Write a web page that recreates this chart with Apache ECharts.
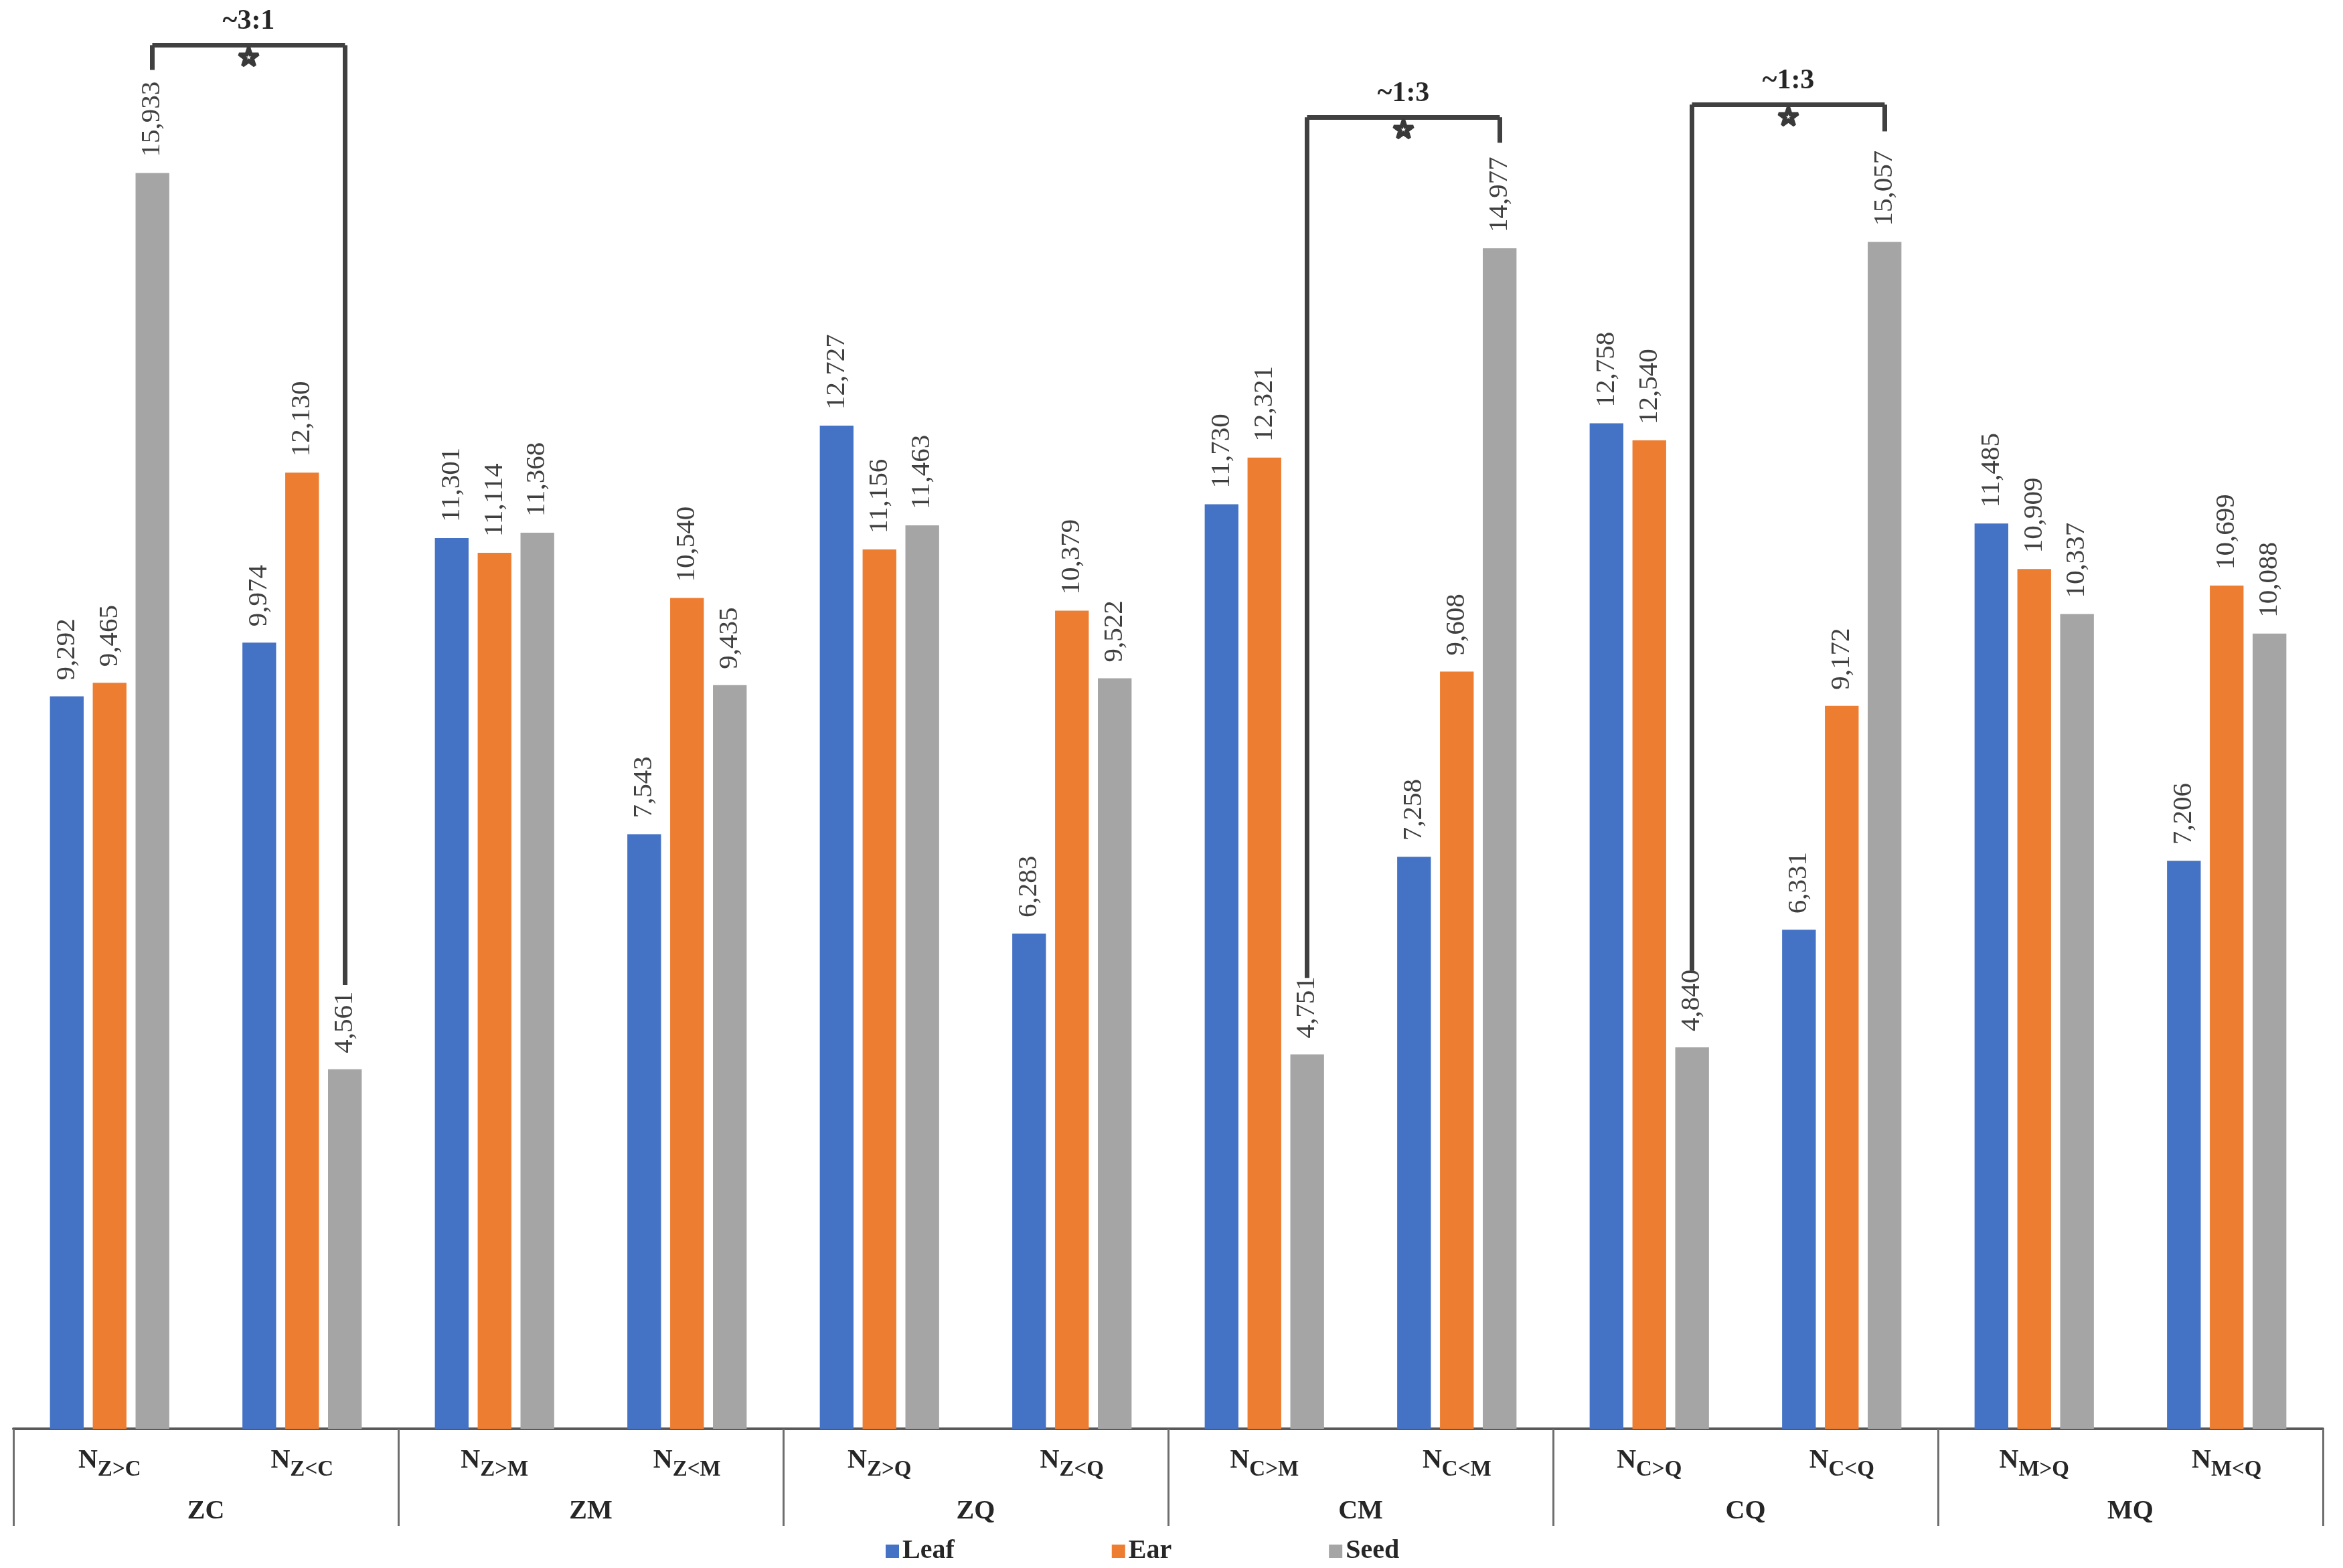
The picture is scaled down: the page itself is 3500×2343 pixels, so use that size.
<!DOCTYPE html>
<html>
<head>
<meta charset="utf-8">
<script src="https://cdn.jsdelivr.net/npm/echarts@6/dist/echarts.min.js"></script>
<style>
html,body{margin:0;padding:0;background:#fff;}
#chart{width:3500px;height:2343px;}
</style>
</head>
<body>
<div id="chart"></div>
<script>
const subCategories = ['Z>C','Z<C','Z>M','Z<M','Z>Q','Z<Q','C>M','C<M','C>Q','C<Q','M>Q','M<Q'];
const groups = ['ZC','ZM','ZQ','CM','CQ','MQ'];
const leaf = [9292, 9974, 11301, 7543, 12727, 6283, 11730, 7258, 12758, 6331, 11485, 7206];
const ear  = [9465, 12130, 11114, 10540, 11156, 10379, 12321, 9608, 12540, 9172, 10909, 10699];
const seed = [15933, 4561, 11368, 9435, 11463, 9522, 4751, 14977, 4840, 15057, 10337, 10088];
// significance brackets (data space: category index, value)
const bracketFrom    = [0, 6, 8];
const bracketTo      = [1, 7, 9];
const bracketTop     = [17555, 16640, 16800];
const bracketFromEnd = [17240, 5720, 5810];
const bracketToEnd   = [5630, 16316, 16460];
const bracketRatio   = ['~3:1', '~1:3', '~1:3'];

const FONT = 'Liberation Serif';
const TXT = '#262626';

const markData = [];
bracketFrom.forEach((f, i) => {
  const t = bracketTo[i], top = bracketTop[i];
  markData.push([{coord:[f, bracketFromEnd[i]]}, {coord:[f, top]}]);
  markData.push([{coord:[f, top], label:{show:true, position:'insideMiddleTop', distance:14, formatter:bracketRatio[i],
      fontFamily:FONT, fontWeight:'bold', fontSize:42, color:TXT}}, {coord:[t, top]}]);
  markData.push([{coord:[f, top], label:{show:true, position:'insideMiddleBottom', distance:2, formatter:'☆',
      fontFamily:'DejaVu Sans', fontWeight:'bold', fontSize:38, color:'#3a3a3a', textBorderColor:'#3a3a3a', textBorderWidth:5}}, {coord:[t, top]}]);
  markData.push([{coord:[t, top]}, {coord:[t, bracketToEnd[i]]}]);
});

const valueLabel = {
  show: true, position: 'top', rotate: 90, align: 'left', verticalAlign: 'middle', distance: 24,
  fontFamily: FONT, fontSize: 41, color: '#404040',
  formatter: p => p.value.toLocaleString('en-US')
};

const chart = echarts.init(document.getElementById('chart'));
chart.setOption({
  animation: false,
  backgroundColor: '#fff',
  grid: {left: 20, right: 30, top: 15, bottom: 208, containLabel: false},
  legend: {
    left: 1318, top: 2293, itemWidth: 20, itemHeight: 20, itemGap: 235, icon: 'rect',
    textStyle: {fontFamily: FONT, fontWeight: 'bold', fontSize: 40, color: TXT},
    data: ['Leaf', 'Ear', 'Seed']
  },
  xAxis: [
    {
      type: 'category', data: subCategories, position: 'bottom',
      axisLine: {show: true, lineStyle: {color: '#595959', width: 4}},
      axisTick: {show: false},
      axisLabel: {
        interval: 0, margin: 28,
        formatter: v => '{n|N}{s|' + v + '}',
        rich: {
          n: {fontFamily: FONT, fontWeight: 'bold', fontSize: 40, color: TXT, lineHeight: 40, verticalAlign: 'top'},
          s: {fontFamily: FONT, fontWeight: 'bold', fontSize: 33, color: TXT, lineHeight: 66}
        }
      }
    },
    {
      type: 'category', data: groups, position: 'bottom', offset: 0,
      axisLine: {show: false},
      axisTick: {show: true, length: 145, lineStyle: {color: '#6e6e6e', width: 3}},
      axisLabel: {interval: 0, margin: 104, fontFamily: FONT, fontWeight: 'bold', fontSize: 40, color: TXT}
    }
  ],
  yAxis: {type: 'value', min: 0, max: 18000, show: false},
  series: [
    {name: 'Leaf', type: 'bar', data: leaf, itemStyle: {color: '#4472C4'}, barGap: '27%', barCategoryGap: '38%', label: valueLabel},
    {name: 'Ear', type: 'bar', data: ear, itemStyle: {color: '#ED7D31'}, barGap: '27%', barCategoryGap: '38%', label: valueLabel},
    {name: 'Seed', type: 'bar', data: seed, itemStyle: {color: '#A5A5A5'}, barGap: '27%', barCategoryGap: '38%', label: valueLabel,
      markLine: {
        silent: true, symbol: ['none', 'none'], animation: false,
        lineStyle: {color: '#404040', width: 7, type: 'solid'},
        label: {show: false},
        emphasis: {disabled: true},
        data: markData
      }
    }
  ]
});
</script>
</body>
</html>
